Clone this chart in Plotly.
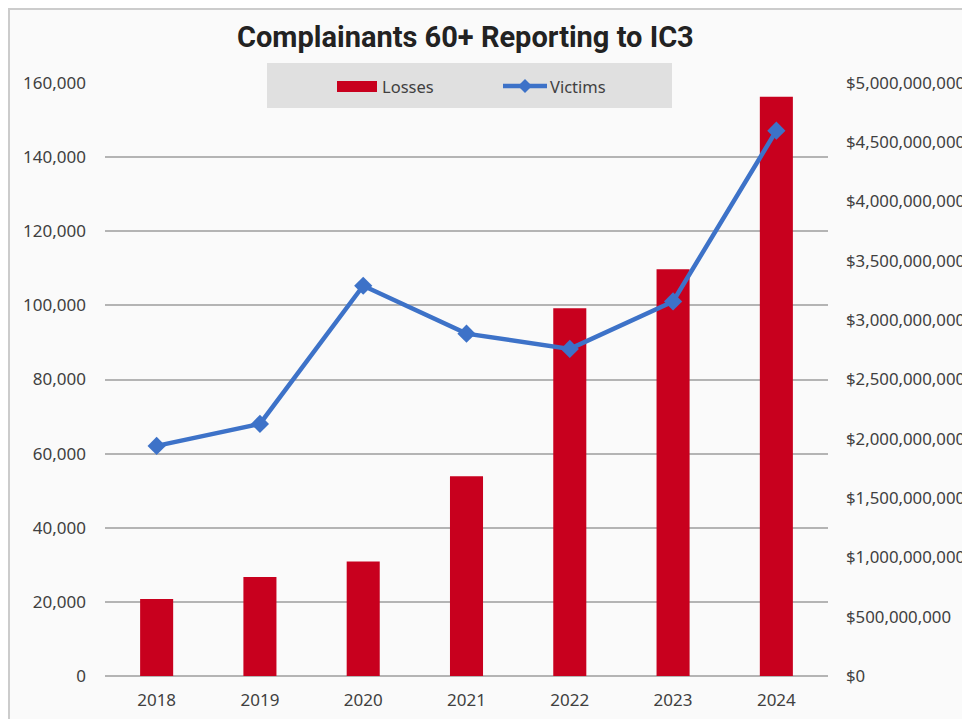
import plotly.graph_objects as go

years = ["2018", "2019", "2020", "2021", "2022", "2023", "2024"]
losses = [649_200_000, 835_000_000, 966_000_000, 1_685_000_000, 3_100_000_000, 3_430_000_000, 4_885_000_000]
victims = [62085, 68013, 105301, 92371, 88262, 101068, 147127]

# page offset (browser body margin) is 8px; figure sized to fill the window
OFF = 8
W, H = 970 - OFF, 719 - OFF
# plot area in reference-window pixels
X0, X1, Y0, Y1 = 105, 828, 83, 676
L, R, T, B = X0 - OFF, W - (X1 - OFF), Y0 - OFF, H - (Y1 - OFF)
pw, ph = X1 - X0, Y1 - Y0

def px(x):
    return (x - X0) / pw

def py(y):
    return (Y1 - y) / ph

FONT = "Noto Sans"
TXT = "#404040"
RED = "#c8001e"
BLUE = "#3d72c8"
BG = "#fafafa"

fig = go.Figure()
fig.add_trace(go.Bar(
    x=years, y=losses, name="Losses", marker=dict(color=RED, line=dict(width=0)),
    yaxis="y", width=0.32, showlegend=False,
))
fig.add_trace(go.Scatter(
    x=years, y=victims, name="Victims", mode="lines+markers", yaxis="y2",
    line=dict(color=BLUE, width=4.5), showlegend=False,
    marker=dict(symbol="diamond", size=14, color=BLUE),
))

legend_y = 86
fig.update_layout(
    width=W, height=H,
    margin=dict(l=L, r=R, t=T, b=B, autoexpand=False),
    paper_bgcolor=BG, plot_bgcolor=BG,
    font=dict(family=FONT, size=17, color=TXT),
    showlegend=False,
    xaxis=dict(
        showgrid=False, showline=False, zeroline=False, ticks="",
        ticklabelstandoff=12, tickfont=dict(size=17, color=TXT),
    ),
    yaxis=dict(
        side="right", range=[0, 5_000_000_000], dtick=500_000_000,
        tickprefix="$", tickformat=",", showgrid=False, zeroline=False,
        showline=False, ticks="", ticklabelstandoff=17,
        tickfont=dict(size=16.8, color=TXT),
    ),
    yaxis2=dict(
        side="left", overlaying="y", range=[0, 160000], dtick=20000,
        tickformat=",", showgrid=True, gridcolor="#b4b4b4", gridwidth=1.6,
        zeroline=True, zerolinecolor="#b4b4b4", zerolinewidth=1.6,
        showline=False, ticks="", ticklabelstandoff=18,
        tickfont=dict(size=17, color=TXT),
    ),
    bargap=0.68,
    annotations=[
        dict(text="<b>Complainants 60+ Reporting to IC3</b>", xref="paper", yref="paper",
             x=px(465), y=py(37.5), xanchor="center", yanchor="middle", showarrow=False,
             font=dict(family="Roboto", size=29, color="#222222")),
        dict(text="Losses", xref="paper", yref="paper", x=px(380), y=py(legend_y),
             xanchor="left", yanchor="middle", showarrow=False,
             font=dict(size=16.5, color=TXT)),
        dict(text="Victims", xref="paper", yref="paper", x=px(548), y=py(legend_y),
             xanchor="left", yanchor="middle", showarrow=False,
             font=dict(size=16.5, color=TXT)),
    ],
    shapes=[
        dict(type="rect", xref="paper", yref="paper",
             x0=px(267), x1=px(672), y0=py(108), y1=py(63),
             fillcolor="#e0e0e0", line=dict(width=0), layer="below"),
        dict(type="rect", xref="paper", yref="paper",
             x0=px(337), x1=px(377), y0=py(92), y1=py(81),
             fillcolor=RED, line=dict(width=0), layer="above"),
        dict(type="line", xref="paper", yref="paper",
             x0=px(503), x1=px(547), y0=py(legend_y), y1=py(legend_y),
             line=dict(color=BLUE, width=4.5), layer="above"),
        dict(type="path", xref="paper", yref="paper",
             xsizemode="pixel", ysizemode="pixel",
             xanchor=px(525), yanchor=py(legend_y),
             path="M0,7 L7,0 L0,-7 L-7,0 Z",
             fillcolor=BLUE, line=dict(width=0), layer="above"),
        dict(type="rect", xref="paper", yref="paper",
             x0=px(OFF + 1), x1=px(1000), y0=py(760), y1=py(OFF + 1),
             fillcolor="rgba(0,0,0,0)", line=dict(color="#cccccc", width=2), layer="above"),
    ],
)

fig.write_html("out.html")
